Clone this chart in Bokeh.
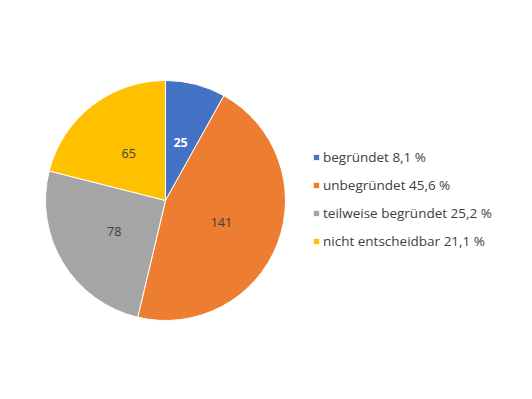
import math
from bokeh.plotting import figure
from bokeh.models import ColumnDataSource, Range1d, Legend, LegendItem
from bokeh.embed import file_html
from bokeh.resources import INLINE
from bokeh.core.properties import value

categories = ["begründet", "unbegründet", "teilweise begründet", "nicht entscheidbar"]
counts = [25, 141, 78, 65]
percents = ["8,1", "45,6", "25,2", "21,1"]
colors = ["#4472C4", "#ED7D31", "#A5A5A5", "#FFC000"]
label_colors = ["#FFFFFF", "#404040", "#404040", "#404040"]
label_styles = ["bold", "normal", "normal", "normal"]

W, H = 516, 383
cx, cy, R = 165, H - 200, 120

total = sum(counts)
starts, ends, lx, ly = [], [], [], []
acc = 0.0
for c in counts:
    a0 = math.pi / 2 - 2 * math.pi * acc / total
    acc += c
    a1 = math.pi / 2 - 2 * math.pi * acc / total
    starts.append(a0)
    ends.append(a1)
    mid = (a0 + a1) / 2
    lx.append(cx + 0.5 * R * math.cos(mid))
    ly.append(cy + 0.5 * R * math.sin(mid))

src = ColumnDataSource(dict(
    start=starts, end=ends, color=colors,
    lx=lx, ly=ly, txt=[str(c) for c in counts],
    tcol=label_colors, tstyle=label_styles,
))

p = figure(width=W, height=H, output_backend="svg", toolbar_location=None,
           x_range=Range1d(0, W), y_range=Range1d(0, H),
           min_border=0, border_fill_color="white", outline_line_color=None)
p.axis.visible = False
p.grid.visible = False

renderers = []
for i in range(len(counts)):
    r = p.wedge(x=cx, y=cy, radius=R, start_angle=starts[i], end_angle=ends[i],
                direction="clock", fill_color=colors[i], line_color="white", line_width=1)
    renderers.append(r)

p.text(x="lx", y="ly", text="txt", source=src, text_color="tcol",
       text_font_style="tstyle", text_font=value("Open Sans"),
       text_font_size="12.5px", text_align="center", text_baseline="middle")

items = [LegendItem(label=f"{categories[i]} {percents[i]} %", renderers=[renderers[i]])
         for i in range(len(counts))]
legend = Legend(items=items, location=(312, 132), padding=0, margin=0,
                border_line_alpha=0, background_fill_alpha=0,
                glyph_width=8, glyph_height=8, label_standoff=3,
                label_height=20, spacing=8,
                label_text_font="Open Sans", label_text_font_size="13.5px",
                label_text_color="#404040")
p.add_layout(legend, "center")

open("out.html", "w").write(file_html(p, INLINE))
